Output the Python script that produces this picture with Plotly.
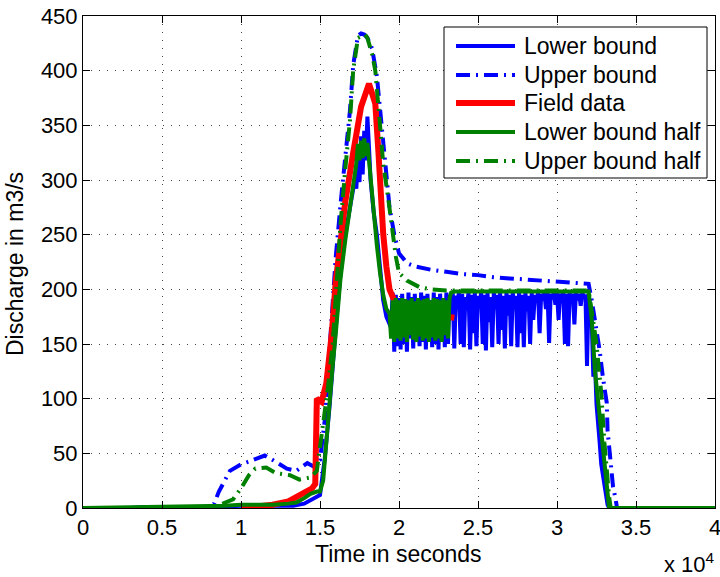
import plotly.graph_objects as go

# ---------------- data (time in seconds, discharge in m3/s) ----------------
# Lower bound (blue solid)
lb_t = [0, 3000, 4000, 5000, 6000, 8000, 10000, 12000, 13300, 14000, 14400, 15000, 15300, 15600,
        16000, 16300, 16600, 17000, 17200, 17300, 17400, 17500, 17600, 17700, 17800, 17900, 18000,
        18100, 18200, 18400, 18600, 18800, 19000, 19200, 19400,
        19500, 19600, 19700, 19800, 19900, 20000, 20100, 20200, 20300, 20400,
        20500, 20600, 20700, 20800, 20900, 21000, 21100, 21200, 21300, 21400,
        21500, 21600, 21700, 21800, 21900, 22000, 22100, 22200, 22300, 22400,
        22500, 22600, 22700, 22800, 22900, 23000, 23100, 23200, 23300, 23400,
        23500, 23600, 23700, 23800, 23900, 24000, 24100, 24200, 24300, 24400,
        24500, 24600, 24700, 24800, 24900, 25000, 25100, 25200, 25300, 25400,
        25500, 25600, 25700, 25800, 25900, 26000, 26100, 26200, 26300, 26400,
        26500, 26600, 26700, 26800, 26900, 27000, 27100, 27200, 27300, 27400,
        27500, 27600, 27700, 27800, 27900, 28000, 28100, 28200, 28300, 28400,
        28500, 28600, 28700, 28800, 28900, 29000, 29100, 29200, 29300, 29400,
        29500, 29600, 29700, 29800, 29900, 30000, 30100, 30200, 30300, 30400,
        30500, 30600, 30700, 30800, 30900, 31000, 31100, 31200, 31300, 31400,
        31500, 31600, 31700, 31800, 31900, 32000,
        32100, 32200, 32300, 32400, 32500, 32600, 32700, 32800, 32900, 33000, 33100, 33200, 33300, 40000]
lb_v = [0, 0, 1, 1, 0, 1, 2, 2, 2, 4, 7, 12, 45, 92,
        165, 215, 250, 285, 300, 292, 325, 298, 340, 305, 345, 318, 358,
        330, 300, 270, 250, 220, 190, 175, 168,
        165, 197, 143, 195, 148, 192, 145, 196, 150, 190,
        143, 197, 155, 193, 146, 196, 160, 192, 148, 197,
        152, 194, 145, 196, 158, 190, 147, 197, 150, 193,
        145, 196, 165, 192, 147, 197, 150, 195, 176, 197,
        146, 194, 190, 197, 150, 196, 147, 193, 185, 197,
        145, 195, 160, 197, 148, 194, 186, 197, 150, 195,
        144, 197, 170, 193, 147, 197, 182, 195, 150, 197,
        163, 194, 146, 197, 176, 195, 148, 197, 185, 194,
        147, 197, 160, 195, 147, 197, 180, 194, 150, 197,
        172, 195, 188, 197, 160, 196, 190, 197, 182, 197,
        151, 196, 191, 197, 186, 197, 172, 196, 192, 197,
        150, 196, 148, 197, 188, 196, 168, 197, 190, 196,
        185, 197, 193, 195, 130, 196,
        180, 170, 120, 135, 95, 80, 60, 40, 30, 20, 10, 3, 0, 0]

# Upper bound (blue dash-dot)
ub_t = [0, 3500, 4000, 4500, 5000, 8000, 8300, 8600, 9300, 10000, 10400, 11500, 12000, 12900,
        13500, 14200, 14600, 15000, 15300, 15600, 16000, 16300, 16600, 16900, 17100, 17400, 17600,
        17800, 18000, 18300, 18600, 18900, 19100, 19400, 19700, 20000, 20500, 21000, 22000, 23000,
        24000, 25000, 26000, 27000, 28000, 29000, 30000, 31000, 32000, 32200, 32400, 32700, 32900,
        33150, 33200, 33350, 33550, 33700, 33800, 40000]
ub_v = [0, 0, 1, 1, 0, 0, 4, 15, 34, 40, 42, 48, 44, 36,
        34, 41, 38, 44, 80, 150, 230, 278, 320, 364, 405, 432, 434,
        433, 430, 420, 395, 355, 320, 275, 250, 233, 224, 221, 218, 216,
        214, 213, 211, 210, 209, 208, 207, 206, 205, 190, 172, 144, 120,
        96, 71, 46, 19, 9, 0, 0]

# Field data (red)
fd_t = [10000, 11000, 12000, 13000, 14000, 14500, 14700, 14800, 15100, 15400, 15750, 16000,
        16400, 16600, 17100, 17600, 18100, 18500, 18700, 18900, 19000, 19200, 19400, 19750,
        20000, 21500, 22500, 23500]
fd_v = [0, 1, 3, 6, 13, 18, 22, 100, 97, 114, 160, 208,
        255, 280, 325, 367, 388, 370, 325, 266, 251, 221, 200, 188,
        182, 170, 176, 174]

# Lower bound half (green solid)
lbh_t = [0, 8000, 9000, 10000, 11000, 12000, 13000, 13500, 14000, 14400, 14800, 15000, 15200,
         15500, 15800, 16000, 16300, 16600, 17000, 17200, 17300, 17400, 17500, 17600, 17700,
         17800, 17900, 18000, 18100, 18200, 18400, 18600, 18800, 19000, 19200,
         19400, 19500, 19600, 19700, 19800, 19900, 20000, 20100, 20200, 20300,
         20400, 20500, 20600, 20700, 20800, 20900, 21000, 21100, 21200, 21300,
         21400, 21500, 21600, 21700, 21800, 21900, 22000, 22100, 22200, 22300,
         22400, 22500, 22600, 22700, 22800, 22900, 23000, 23100, 23200, 23300, 23500,
         32000, 32200, 32400, 32700, 33000, 33250, 33300, 40000]
lbh_v = [0, 1, 2, 3, 3, 3, 4, 5, 9, 13, 15, 15, 25,
         80, 130, 160, 210, 245, 285, 305, 315, 333, 318, 336, 320,
         338, 322, 334, 318, 300, 265, 240, 215, 195, 182,
         178, 155, 190, 152, 192, 155, 190, 153, 192, 156,
         191, 152, 190, 158, 192, 154, 189, 152, 192, 157,
         190, 153, 191, 155, 192, 152, 190, 156, 192, 153,
         191, 155, 190, 152, 192, 158, 190, 155, 192, 197, 198,
         198, 172, 126, 83, 43, 2, 0, 0]

# Upper bound half (green dash-dot)
ubh_t = [0, 8000, 8500, 9000, 9500, 10000, 10500, 10900, 11600, 12200, 13100, 13700, 14400,
         14800, 15100, 15500, 15800, 16000, 16300, 16600, 16900, 17100, 17400, 17850, 18000,
         18300, 18500, 18800, 19000, 19300, 19600, 19800, 20000, 20500, 21300, 22000, 23000,
         32000, 32200, 32500, 32800, 33000, 33300, 33400, 40000]
ubh_v = [0, 0, 2, 5, 8, 18, 30, 36, 37, 32, 30, 26, 28,
         34, 65, 110, 150, 200, 260, 310, 355, 400, 430, 433, 430,
         415, 400, 350, 315, 285, 250, 230, 215, 208, 202, 200, 199,
         199, 180, 150, 105, 60, 10, 0, 0]

x_tickvals = [0, 5000, 10000, 15000, 20000, 25000, 30000, 35000, 40000]
x_ticktext = ["0", "0.5", "1", "1.5", "2", "2.5", "3", "3.5", "4"]
y_tickvals = [0, 50, 100, 150, 200, 250, 300, 350, 400, 450]

legend_names = ["Lower bound", "Upper bound", "Field data", "Lower bound half", "Upper bound half"]

BLUE = "rgb(0,0,255)"
RED = "rgb(255,0,0)"
GREEN = "rgb(0,128,0)"
DASHDOT = "14px,6px,2px,6px"

series = [
    (lb_t, lb_v, BLUE, 4, "solid"),
    (ub_t, ub_v, BLUE, 4, DASHDOT),
    (fd_t, fd_v, RED, 6, "solid"),
    (lbh_t, lbh_v, GREEN, 4, "solid"),
    (ubh_t, ubh_v, GREEN, 4, DASHDOT),
]

W, H = 720, 577
ML, MR, MT, MB = 83, 5, 16, 69
PW = W - ML - MR
PH = H - MT - MB


def px(xp):
    return (xp - ML) / PW


def py(yp):
    return (H - MB - yp) / PH


fig = go.Figure()
for (t, v, col, w, dash), name in zip(series, legend_names):
    assert len(t) == len(v), name
    fig.add_trace(go.Scatter(x=t, y=v, mode="lines", name=name, showlegend=False,
                             line=dict(color=col, width=w, dash=dash)))

FONT = "Liberation Sans, Arial, Helvetica, sans-serif"

axis_common = dict(ticks="inside", ticklen=7, tickcolor="black", tickwidth=1,
                   showline=True, linecolor="black", linewidth=1, mirror="ticks",
                   showgrid=True, gridcolor="#444", griddash="1px,7px", gridwidth=1,
                   zeroline=False, ticklabeloverflow="allow", automargin=False,
                   tickfont=dict(family=FONT, size=22, color="black"))

fig.update_xaxes(range=[0, 40000], tickmode="array", tickvals=x_tickvals, ticktext=x_ticktext,
                 **axis_common)
fig.update_yaxes(range=[0, 450], tickmode="array", tickvals=y_tickvals,
                 ticktext=[str(v) for v in y_tickvals], **axis_common)

shapes = []
annotations = []
# legend box
shapes.append(dict(type="rect", xref="paper", yref="paper", x0=px(444), x1=px(707),
                   y0=py(178), y1=py(27), line=dict(color="black", width=1),
                   fillcolor="white", layer="above"))
rows = [46, 75, 103, 132, 161]
for (t, v, col, w, dash), name, ry in zip(series, legend_names, rows):
    shapes.append(dict(type="line", xref="paper", yref="paper", x0=px(456), x1=px(515),
                       y0=py(ry), y1=py(ry), line=dict(color=col, width=w, dash=dash),
                       layer="above"))
    annotations.append(dict(text=name, xref="paper", yref="paper", x=px(522), y=py(ry),
                            xanchor="left", yanchor="middle", showarrow=False,
                            font=dict(family=FONT, size=23, color="black")))

annotations.append(dict(text="Time in seconds", xref="paper", yref="paper", x=px(398), y=py(539),
                        xanchor="center", yanchor="top", showarrow=False,
                        font=dict(family=FONT, size=23, color="black")))
annotations.append(dict(text="Discharge in m3/s", xref="paper", yref="paper", x=px(15), y=py(264),
                        xanchor="center", yanchor="middle", textangle=-90, showarrow=False,
                        font=dict(family=FONT, size=23, color="black")))
annotations.append(dict(text="x 10<sup>4</sup>", xref="paper", yref="paper", x=px(717), y=py(579),
                        xanchor="right", yanchor="bottom", showarrow=False,
                        font=dict(family=FONT, size=22, color="black")))

fig.update_layout(width=W, height=H, margin=dict(l=ML, r=MR, t=MT, b=MB, pad=0, autoexpand=False),
                  paper_bgcolor="white", plot_bgcolor="white", showlegend=False,
                  shapes=shapes, annotations=annotations)

fig.write_html("out.html")
